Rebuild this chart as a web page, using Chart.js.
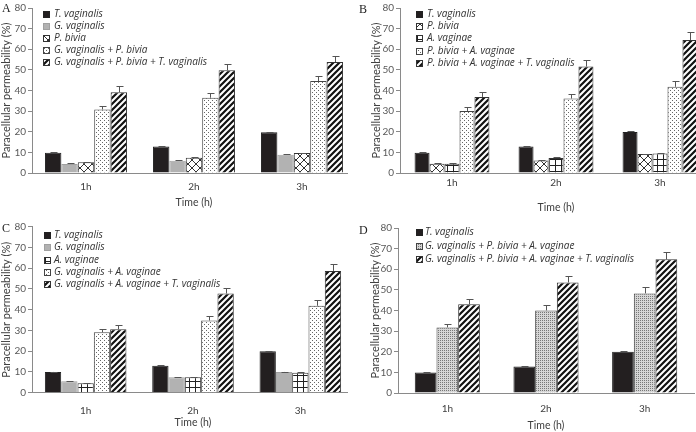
<!DOCTYPE html>
<html>
<head>
<meta charset="utf-8">
<script src="https://cdn.jsdelivr.net/npm/chart.js@4.4.1/dist/chart.umd.min.js"></script>
<style>
  html, body { margin: 0; padding: 0; background: #fff; }
  #fig { position: relative; width: 696px; height: 432px; overflow: hidden; }
  .panel { position: absolute; width: 348px; height: 216px; overflow: hidden; }
  .panel canvas { position: absolute; left: 0; top: 0; }
  .tag { position: absolute; font-family: "Liberation Serif", "DejaVu Serif", serif; font-size: 12px; color: #222; line-height: 14px; }
</style>
</head>
<body>
<div id="fig">
  <div class="panel" style="left:0;top:0"><canvas id="cA" width="362" height="216"></canvas></div>
  <div class="panel" style="left:348px;top:0"><canvas id="cB" width="368" height="216"></canvas></div>
  <div class="panel" style="left:0;top:216px"><canvas id="cC" width="362" height="216"></canvas></div>
  <div class="panel" style="left:348px;top:216px"><canvas id="cD" width="348" height="216"></canvas></div>
  <span class="tag" style="left:2px;top:1px">A</span>
  <span class="tag" style="left:359px;top:2px">B</span>
  <span class="tag" style="left:2px;top:221px">C</span>
  <span class="tag" style="left:359px;top:223px">D</span>
</div>
<script>
/* ── Data ── */
const TIMES = ['1h', '2h', '3h'];

const A_LABELS = ['T. vaginalis', 'G. vaginalis', 'P. bivia',
  'G. vaginalis + P. bivia', 'G. vaginalis + P. bivia + T. vaginalis'];
const A_MEANS = [
  [9.8, 12.8, 19.8],
  [4.4, 5.9, 8.9],
  [5.2, 7.4, 9.7],
  [30.8, 36.5, 44.6],
  [39.2, 49.8, 53.8],
];
const A_ERRORS = [
  [0.2, 0.3, 0.3],
  [0.3, 0.3, 0.3],
  [0.2, 0.2, 0.2],
  [1.8, 2.1, 2.5],
  [2.8, 3.0, 3.1],
];

const B_LABELS = ['T. vaginalis', 'P. bivia', 'A. vaginae',
  'P. bivia + A. vaginae', 'P. bivia + A. vaginae + T. vaginalis'];
const B_MEANS = [
  [9.8, 12.9, 19.9],
  [4.5, 6.1, 9.2],
  [4.5, 7.3, 9.4],
  [30.1, 36.1, 41.8],
  [36.9, 51.6, 64.5],
];
const B_ERRORS = [
  [0.2, 0.3, 0.3],
  [0.2, 0.2, 0.2],
  [0.2, 0.3, 0.3],
  [1.8, 2.3, 2.7],
  [2.4, 3.0, 3.8],
];

const C_LABELS = ['T. vaginalis', 'G. vaginalis', 'A. vaginae',
  'G. vaginalis + A. vaginae', 'G. vaginalis + A. vaginae + T. vaginalis'];
const C_MEANS = [
  [10.0, 13.0, 20.0],
  [5.5, 7.5, 10.0],
  [4.6, 7.4, 9.6],
  [29.1, 34.8, 41.9],
  [30.6, 47.8, 58.7],
];
const C_ERRORS = [
  [0.2, 0.3, 0.3],
  [0.3, 0.2, 0.2],
  [0.2, 0.3, 0.2],
  [1.4, 2.2, 2.6],
  [1.9, 2.7, 3.2],
];

const D_LABELS = ['T. vaginalis', 'G. vaginalis + P. bivia + A. vaginae',
  'G. vaginalis + P. bivia + A. vaginae + T. vaginalis'];
const D_MEANS = [
  [10.0, 12.9, 20.0],
  [31.8, 40.0, 48.3],
  [43.0, 53.6, 64.8],
];
const D_ERRORS = [
  [0.2, 0.3, 0.3],
  [1.8, 2.5, 2.9],
  [2.6, 3.0, 3.5],
];

const Y_MIN = 0, Y_MAX = 80, Y_STEP = 10;

/* ── Fill patterns ── */
function tile(w, h, paint) {
  const c = document.createElement('canvas');
  c.width = w; c.height = h;
  const g = c.getContext('2d');
  g.fillStyle = '#fff';
  g.fillRect(0, 0, w, h);
  paint(g);
  return g.createPattern(c, 'repeat');
}

const FILLS = {
  black: '#231f20',
  gray: '#b2b2b2',
  cross: tile(8, 8, g => {
    g.strokeStyle = '#333'; g.lineWidth = 1;
    g.beginPath();
    g.moveTo(0, 0); g.lineTo(8, 8);
    g.moveTo(8, 0); g.lineTo(0, 8);
    g.stroke();
  }),
  grid: tile(6, 6, g => {
    g.fillStyle = '#222';
    g.fillRect(3, 0, 1, 6);
    g.fillRect(0, 3, 6, 1);
  }),
  dots: tile(4, 4, g => {
    g.fillStyle = '#666';
    g.fillRect(0, 0, 1, 1);
    g.fillRect(2, 2, 1, 1);
  }),
  dense: tile(2, 2, g => {
    g.fillStyle = '#d6d6d6'; g.fillRect(0, 0, 2, 2);
    g.fillStyle = '#777'; g.fillRect(0, 0, 1, 1);
  }),
  stripes: tile(6, 6, g => {
    g.strokeStyle = '#111'; g.lineWidth = 2.2;
    g.beginPath();
    g.moveTo(-3, 3); g.lineTo(3, -3);
    g.moveTo(0, 6); g.lineTo(6, 0);
    g.moveTo(3, 9); g.lineTo(9, 3);
    g.stroke();
  }),
};
const EDGES = { black: '#222', gray: '#a0a0a0', cross: '#333', grid: '#333', dots: '#444', dense: '#444', stripes: '#333' };

/* ── Plugins ── */
const errorBars = {
  id: 'errorBars',
  afterDatasetsDraw(chart) {
    const ctx = chart.ctx, y = chart.scales.y;
    ctx.save();
    ctx.strokeStyle = '#555';
    ctx.lineWidth = 1;
    chart.data.datasets.forEach((ds, i) => {
      chart.getDatasetMeta(i).data.forEach((bar, j) => {
        const top = Math.round(y.getPixelForValue(ds.data[j] + ds.errors[j])) + 0.5;
        const x = Math.round(bar.x) + 0.5;
        ctx.beginPath();
        ctx.moveTo(x, bar.y);
        ctx.lineTo(x, top);
        ctx.moveTo(x - 3, top);
        ctx.lineTo(x + 4, top);
        ctx.stroke();
      });
    });
    ctx.restore();
  }
};

const boxLegend = {
  id: 'boxLegend',
  afterDraw(chart, args, opts) {
    const ctx = chart.ctx;
    ctx.save();
    ctx.font = 'italic 10px "Open Sans", Lato, sans-serif';
    ctx.textBaseline = 'middle';
    chart.data.datasets.forEach((ds, i) => {
      const y = Math.round(opts.y + i * opts.gap);
      ctx.fillStyle = ds.backgroundColor;
      ctx.fillRect(opts.x, y - 3, 7, 7);
      ctx.strokeStyle = ds.borderColor;
      ctx.lineWidth = 1;
      ctx.strokeRect(opts.x + 0.5, y - 2.5, 6, 6);
      ctx.fillStyle = '#333';
      ctx.fillText(ds.label, opts.textX, y + 0.5);
    });
    ctx.restore();
  }
};

/* ── Panels ── */
const FONT = 'Lato, "Open Sans", sans-serif';

function panel(id, labels, means, errors, fills, L) {
  new Chart(document.getElementById(id), {
    type: 'bar',
    data: {
      labels: TIMES,
      datasets: labels.map((label, i) => ({
        label,
        data: means[i],
        errors: errors[i],
        backgroundColor: FILLS[fills[i]],
        borderColor: EDGES[fills[i]],
        borderWidth: 1,
        borderSkipped: 'bottom',
        barPercentage: 1,
        categoryPercentage: L.cat,
      }))
    },
    options: {
      responsive: false,
      animation: false,
      layout: { padding: { top: L.top, right: L.right, left: 0, bottom: 0 } },
      plugins: {
        legend: { display: false },
        tooltip: { enabled: false },
        boxLegend: { x: L.legX, textX: L.legTextX, y: L.legY, gap: L.legGap },
      },
      scales: {
        x: {
          afterFit: s => { s.height = L.xHeight; },
          grid: { drawOnChartArea: false, drawTicks: false },
          border: { color: '#8a8a8a' },
          ticks: { color: '#404040', padding: L.xTickPad, font: { family: FONT, size: 10 } },
          title: {
            display: true, text: 'Time (h)', color: '#404040',
            padding: { top: 0, bottom: L.xTitlePad },
            font: { family: FONT, size: 10.5 }
          }
        },
        y: {
          min: Y_MIN, max: Y_MAX,
          afterFit: s => { s.width = L.left; },
          grid: { drawOnChartArea: false, drawTicks: true, tickLength: 4, color: '#8a8a8a' },
          border: { color: '#8a8a8a' },
          ticks: { stepSize: Y_STEP, color: '#595959', padding: 2, font: { family: FONT, size: 10 } },
          title: {
            display: true, text: 'Paracellular permeability (%)', color: '#404040',
            padding: { top: L.yTitlePad, bottom: 0 },
            font: { family: FONT, size: 11 }
          }
        }
      }
    },
    plugins: [errorBars, boxLegend]
  });
}

panel('cA', A_LABELS, A_MEANS, A_ERRORS, ['black', 'gray', 'cross', 'dots', 'stripes'],
  { left: 32, top: 8, right: 6, xHeight: 43, cat: 0.76, xTickPad: 8, xTitlePad: 7, yTitlePad: 0,
    legX: 43, legTextX: 54, legY: 14, legGap: 12.1 });
panel('cB', B_LABELS, B_MEANS, B_ERRORS, ['black', 'cross', 'grid', 'dots', 'stripes'],
  { left: 52, top: 8, right: 4, xHeight: 43, cat: 0.72, xTickPad: 4, xTitlePad: 2, yTitlePad: 22,
    legX: 68, legTextX: 79, legY: 14, legGap: 12.2 });
panel('cC', C_LABELS, C_MEANS, C_ERRORS, ['black', 'gray', 'grid', 'dots', 'stripes'],
  { left: 32, top: 10.7, right: 8, xHeight: 39.3, cat: 0.76, xTickPad: 12, xTitlePad: 3, yTitlePad: 0,
    legX: 44, legTextX: 54, legY: 19, legGap: 12.3 });
panel('cD', D_LABELS, D_MEANS, D_ERRORS, ['black', 'dense', 'stripes'],
  { left: 50, top: 12, right: 2, xHeight: 39, cat: 0.66, xTickPad: 10, xTitlePad: 0, yTitlePad: 21,
    legX: 68, legTextX: 77, legY: 16, legGap: 13.5 });
</script>
</body>
</html>
